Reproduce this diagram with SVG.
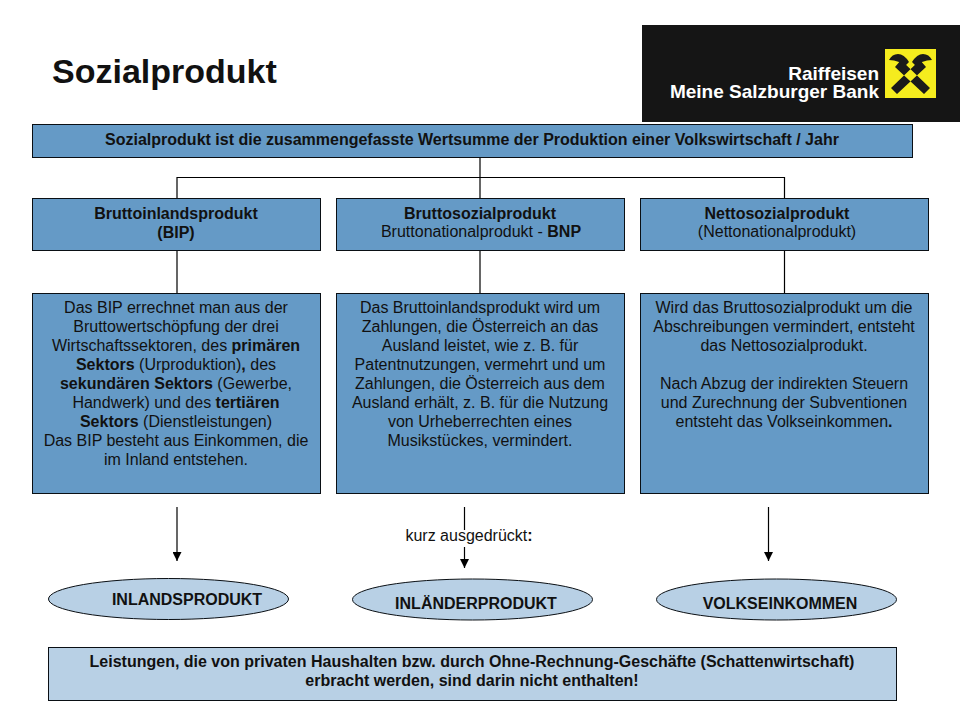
<svg xmlns="http://www.w3.org/2000/svg" width="960" height="720" viewBox="0 0 960 720">
<style>
text{font-family:"Liberation Sans",Arial,sans-serif;font-size:16px;fill:#111;text-anchor:middle}
.b{font-weight:700}
.box{fill:#659ac6;stroke:#0a0f14;stroke-width:1}
.pale{fill:#b8d0e5;stroke:#0a0f14;stroke-width:1}
.line{fill:none;stroke:#000;stroke-width:1.2}
</style>
<defs><marker id="arrow" markerWidth="9" markerHeight="9" refX="9" refY="4.500" orient="auto" markerUnits="userSpaceOnUse" viewBox="0 0 9 9"><path d="M0 0L9 4.500L0 9Z" fill="#000"/></marker></defs>
<rect width="960" height="720" fill="#fff"/>
<text id="title" x="52" y="83" style="font-size:34px;font-weight:700;text-anchor:start">Sozialprodukt</text>
<g id="logo">
<rect x="642" y="25" width="318" height="97" fill="#151515"/>
<text style="font-size:19px;font-weight:700;fill:#fff;text-anchor:end"><tspan x="879" y="80">Raiffeisen</tspan><tspan x="879" y="98">Meine Salzburger Bank</tspan></text>
<rect x="885" y="49" width="51" height="49" fill="#f5ec1e"/>
<path d="M891 88L920 60L926 67L897 94ZM930 88L901 60L895 67L924 94Z" fill="#1a1a1a"/>
<path d="M889 60Q892 54 898 54Q904 54 909 62L903 68L899 62Q894 60 889 60ZM932 60Q929 54 923 54Q917 54 912 62L918 68L922 62Q927 60 932 60Z" fill="#1a1a1a"/>
</g>
<g id="connectors">
<path class="line" d="M480 157V198M177 198V177.500H784.500V198M177 250V293M480 250V293M784.500 250V293"/>
<path class="line" d="M177 507V561" marker-end="url(#arrow)"/>
<path class="line" d="M464.500 507V530"/>
<path class="line" d="M464.500 547V568" marker-end="url(#arrow)"/>
<path class="line" d="M768.500 507V561" marker-end="url(#arrow)"/>
</g>
<g id="top"><rect class="box" x="32.500" y="124.500" width="880" height="33"/><text class="b" x="472" y="145">Sozialprodukt ist die zusammengefasste Wertsumme der Produktion einer Volkswirtschaft / Jahr</text></g>
<g id="bip"><rect class="box" x="32.500" y="198.500" width="288" height="52"/><text class="b" x="176" y="219">Bruttoinlandsprodukt</text><text class="b" x="176" y="238">(BIP)</text></g>
<g id="bsp"><rect class="box" x="336.500" y="198.500" width="288" height="52"/><text class="b" x="480" y="219">Bruttosozialprodukt</text><text x="481" y="237">Bruttonationalprodukt - <tspan class="b">BNP</tspan></text></g>
<g id="nsp"><rect class="box" x="640.500" y="198.500" width="288" height="52"/><text class="b" x="777" y="219">Nettosozialprodukt</text><text x="777" y="237">(Nettonationalprodukt)</text></g>
<g id="bip-text"><rect class="box" x="32.500" y="293.500" width="288" height="200"/>
<text x="176" y="313">Das BIP errechnet man aus der</text>
<text x="176" y="332">Bruttowertschöpfung der drei</text>
<text x="176" y="351">Wirtschaftssektoren, des <tspan class="b">primären</tspan></text>
<text x="176" y="370"><tspan class="b">Sektors</tspan> (Urproduktion)<tspan class="b">,</tspan> des</text>
<text x="176" y="389"><tspan class="b">sekundären Sektors</tspan> (Gewerbe,</text>
<text x="176" y="408">Handwerk) und des <tspan class="b">tertiären</tspan></text>
<text x="176" y="427"><tspan class="b">Sektors</tspan> (Dienstleistungen)</text>
<text x="176" y="446">Das BIP besteht aus Einkommen, die</text>
<text x="176" y="465">im Inland entstehen.</text></g>
<g id="bsp-text"><rect class="box" x="336.500" y="293.500" width="288" height="200"/>
<text x="480" y="313">Das Bruttoinlandsprodukt wird um</text>
<text x="480" y="332">Zahlungen, die Österreich an das</text>
<text x="480" y="351">Ausland leistet, wie z. B. für</text>
<text x="480" y="370">Patentnutzungen, vermehrt und um</text>
<text x="480" y="389">Zahlungen, die Österreich aus dem</text>
<text x="480" y="408">Ausland erhält, z. B. für die Nutzung</text>
<text x="480" y="427">von Urheberrechten eines</text>
<text x="480" y="446">Musikstückes, vermindert.</text></g>
<g id="nsp-text"><rect class="box" x="640.500" y="293.500" width="288" height="200"/>
<text x="784" y="313">Wird das Bruttosozialprodukt um die</text>
<text x="784" y="332">Abschreibungen vermindert, entsteht</text>
<text x="784" y="351">das Nettosozialprodukt.</text>
<text x="784" y="389">Nach Abzug der indirekten Steuern</text>
<text x="784" y="408">und Zurechnung der Subventionen</text>
<text x="784" y="427">entsteht das Volkseinkommen<tspan class="b">.</tspan></text></g>
<text id="kurz" x="469" y="541">kurz ausgedrückt<tspan class="b">:</tspan></text>
<g id="inland"><ellipse class="pale" cx="168.500" cy="599" rx="120" ry="20.500"/><text class="b" x="187" y="605">INLANDSPRODUKT</text></g>
<g id="inlaender"><ellipse class="pale" cx="472.500" cy="599.500" rx="120" ry="20.500"/><text class="b" x="476" y="609">INLÄNDERPRODUKT</text></g>
<g id="volk"><ellipse class="pale" cx="776.500" cy="599.500" rx="120" ry="20.500"/><text class="b" x="780" y="609">VOLKSEINKOMMEN</text></g>
<g id="note"><rect class="pale" x="48.500" y="647.500" width="848" height="53"/>
<text class="b" x="472" y="667">Leistungen, die von privaten Haushalten bzw. durch Ohne-Rechnung-Geschäfte (Schattenwirtschaft)</text>
<text class="b" x="472" y="686">erbracht werden, sind darin nicht enthalten!</text></g>
</svg>
